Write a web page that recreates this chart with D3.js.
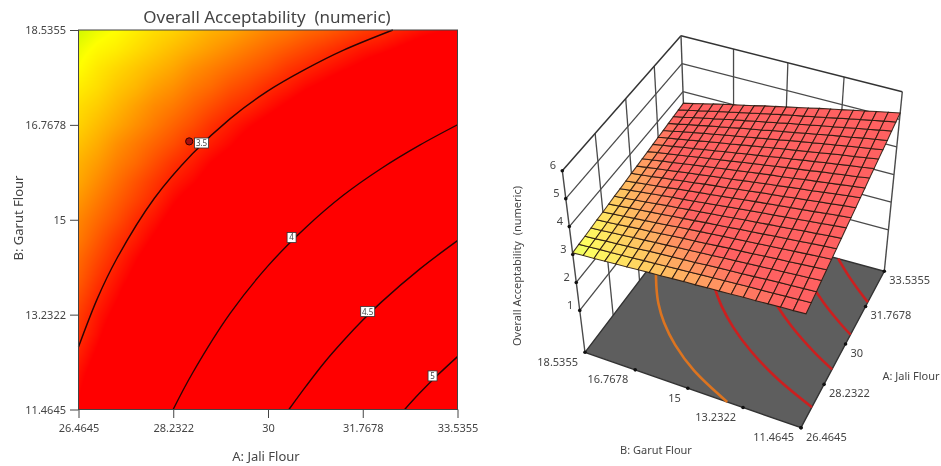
<!DOCTYPE html>
<html><head><meta charset="utf-8">
<script src="https://cdn.jsdelivr.net/npm/d3@7"></script>
<style>
html,body{margin:0;padding:0;background:#fff;}
svg{display:block;filter:blur(0.45px);}
text{font-family:"Noto Sans",sans-serif;fill:#454545;white-space:pre;}
</style></head><body><div id="chart"></div>
<script>
// ---------- data ----------
const chartTitle = "Overall Acceptability  (numeric)";
const xTitle = "A: Jali Flour";
const yTitle = "B: Garut Flour";
const aTicks = [26.4645, 28.2322, 30, 31.7678, 33.5355];
const bTicks = [11.4645, 13.2322, 15, 16.7678, 18.5355];
const zTicks = [1, 2, 3, 4, 5, 6];
const zFloor = -0.5;
// response surface: rows run from B = 18.5355 down to B = 11.4645, columns from A = 26.4645 to 33.5355
const zGrid = [
[3.06,3.09,3.11,3.14,3.17,3.19,3.22,3.25,3.27,3.30,3.33,3.35,3.38,3.40,3.43,3.46,3.48,3.51,3.54,3.56,3.59],
[3.09,3.12,3.14,3.17,3.20,3.23,3.26,3.29,3.32,3.35,3.38,3.41,3.44,3.47,3.50,3.53,3.55,3.58,3.61,3.64,3.67],
[3.11,3.15,3.18,3.21,3.24,3.27,3.31,3.34,3.37,3.40,3.43,3.47,3.50,3.53,3.56,3.59,3.63,3.66,3.69,3.72,3.75],
[3.14,3.17,3.21,3.24,3.28,3.31,3.35,3.38,3.42,3.45,3.49,3.52,3.56,3.59,3.63,3.66,3.70,3.73,3.77,3.80,3.84],
[3.17,3.20,3.24,3.28,3.32,3.35,3.39,3.43,3.47,3.50,3.54,3.58,3.62,3.65,3.69,3.73,3.77,3.81,3.84,3.88,3.92],
[3.19,3.23,3.27,3.31,3.35,3.39,3.43,3.48,3.52,3.56,3.60,3.64,3.68,3.72,3.76,3.80,3.84,3.88,3.92,3.96,4.00],
[3.22,3.26,3.31,3.35,3.39,3.43,3.48,3.52,3.56,3.61,3.65,3.69,3.74,3.78,3.82,3.87,3.91,3.95,4.00,4.04,4.08],
[3.25,3.29,3.34,3.38,3.43,3.48,3.52,3.57,3.61,3.66,3.71,3.75,3.80,3.84,3.89,3.93,3.98,4.03,4.07,4.12,4.16],
[3.27,3.32,3.37,3.42,3.47,3.52,3.56,3.61,3.66,3.71,3.76,3.81,3.86,3.90,3.95,4.00,4.05,4.10,4.15,4.20,4.25],
[3.30,3.35,3.40,3.45,3.50,3.56,3.61,3.66,3.71,3.76,3.81,3.86,3.92,3.97,4.02,4.07,4.12,4.17,4.22,4.28,4.33],
[3.33,3.38,3.43,3.49,3.54,3.60,3.65,3.70,3.76,3.81,3.87,3.92,3.98,4.03,4.08,4.14,4.19,4.25,4.30,4.36,4.41],
[3.35,3.41,3.47,3.52,3.58,3.64,3.69,3.75,3.81,3.87,3.92,3.98,4.04,4.09,4.15,4.21,4.26,4.32,4.38,4.44,4.49],
[3.38,3.44,3.50,3.56,3.62,3.68,3.74,3.80,3.86,3.92,3.98,4.04,4.10,4.16,4.22,4.28,4.34,4.39,4.45,4.51,4.57],
[3.40,3.47,3.53,3.59,3.65,3.72,3.78,3.84,3.91,3.97,4.03,4.09,4.15,4.22,4.28,4.34,4.41,4.47,4.53,4.59,4.66],
[3.43,3.50,3.56,3.63,3.69,3.76,3.82,3.89,3.95,4.02,4.08,4.15,4.21,4.28,4.35,4.41,4.48,4.54,4.61,4.67,4.74],
[3.46,3.53,3.59,3.66,3.73,3.80,3.87,3.93,4.00,4.07,4.14,4.21,4.28,4.34,4.41,4.48,4.55,4.62,4.68,4.75,4.82],
[3.48,3.55,3.63,3.70,3.77,3.84,3.91,3.98,4.05,4.12,4.19,4.26,4.33,4.41,4.48,4.55,4.62,4.69,4.76,4.83,4.90],
[3.51,3.58,3.66,3.73,3.80,3.88,3.95,4.03,4.10,4.17,4.25,4.32,4.39,4.47,4.54,4.62,4.69,4.76,4.84,4.91,4.98],
[3.54,3.61,3.69,3.77,3.84,3.92,4.00,4.07,4.15,4.23,4.30,4.38,4.45,4.53,4.61,4.68,4.76,4.84,4.91,4.99,5.07],
[3.56,3.64,3.72,3.80,3.88,3.96,4.04,4.12,4.20,4.28,4.36,4.44,4.51,4.59,4.67,4.75,4.83,4.91,4.99,5.07,5.15],
[3.59,3.67,3.75,3.84,3.92,4.00,4.08,4.16,4.25,4.33,4.41,4.49,4.57,4.66,4.74,4.82,4.90,4.98,5.07,5.15,5.23]
];
// contour lines of the flat plot, as [A, B] pairs
const contour35 = [[26.4645,12.63],[26.82,13.54],[27.17,14.26],[27.88,15.40],[28.59,16.23],[29.29,16.88],[30,17.40],[30.71,17.81],[31.41,18.16],[32.33,18.5355]];
const contour40 = [[28.23,11.4645],[28.59,12.14],[29.29,13.25],[30,14.14],[30.71,14.86],[31.41,15.46],[32.12,15.96],[32.83,16.39],[33.5355,16.77]];
const contour45 = [[30.39,11.4645],[30.71,11.90],[31.06,12.35],[31.41,12.75],[31.77,13.13],[32.12,13.47],[32.83,14.08],[33.5355,14.61]];
const contour50 = [[32.55,11.4645],[32.83,11.77],[33.18,12.12],[33.5355,12.45]];
const contourLevels = ["3.5", "4", "4.5", "5"];
const contourLabelAt = [[28.76,16.43],[30.44,14.67],[31.86,13.29],[33.07,12.09]];
const designPoint = [28.53, 16.46];
// contour lines on the floor of the 3D plot
const floor342 = [[26.4645,13.73],[27.17,15.15],[27.88,16.14],[28.59,16.89],[29.29,17.46],[30,17.91],[30.71,18.29],[31.27,18.5355]];
const floor378 = [[27.285,11.4645],[27.88,12.77],[28.59,13.94],[29.29,14.84],[30,15.57],[30.71,16.16],[31.41,16.65],[32.12,17.06],[32.83,17.41],[33.5355,17.72]];
const floor415 = [[28.876,11.4645],[29.29,12.16],[30,13.16],[30.71,13.98],[31.41,14.65],[32.12,15.21],[32.83,15.70],[33.5355,16.12]];
const floor451 = [[30.43,11.4645],[30.71,11.85],[31.41,12.70],[32.12,13.42],[32.83,14.04],[33.5355,14.57]];
const floor487 = [[31.98,11.4645],[32.12,11.63],[32.83,12.37],[33.5355,13.02]];
const floorColors = ["#dc7420","#cc1f1f","#cc1f1f","#cc1f1f","#cc1f1f"];

// ---------- shared ----------
const W = 941, H = 466;
const svg = d3.select("#chart").append("svg").attr("width", W).attr("height", H);
const heat = d3.scaleLinear()
  .domain([3.06, 3.11, 3.34, 3.57])
  .range(["#d0f800", "#ffff00", "#ff8000", "#ff0000"]).clamp(true);
const nCols = zGrid[0].length, nRows = zGrid.length;
function zAt(fu, fv) {
  const x = Math.min(fu * (nCols - 1), nCols - 1.0001), y = Math.min(fv * (nRows - 1), nRows - 1.0001);
  const i = Math.floor(x), j = Math.floor(y), s = x - i, t = y - j;
  return (zGrid[j][i] * (1 - s) + zGrid[j][i + 1] * s) * (1 - t) + (zGrid[j + 1][i] * (1 - s) + zGrid[j + 1][i + 1] * s) * t;
}

// ---------- flat contour plot ----------
const x = d3.scaleLinear().domain([aTicks[0], aTicks[4]]).range([78.5, 457.5]);
const y = d3.scaleLinear().domain([bTicks[0], bTicks[4]]).range([409.5, 30]);
const cnv = document.createElement("canvas");
const cw = 379, ch = 380; cnv.width = cw; cnv.height = ch;
const ctx = cnv.getContext("2d");
for (let py = 0; py < ch; py++) for (let px = 0; px < cw; px++) {
  ctx.fillStyle = heat(zAt((px + .5) / cw, (py + .5) / ch));
  ctx.fillRect(px, py, 1, 1);
}
const left = svg.append("g");
left.append("image").attr("x", x.range()[0]).attr("y", y.range()[1]).attr("width", cw).attr("height", ch)
  .attr("preserveAspectRatio", "none").attr("href", cnv.toDataURL());
const line2d = d3.line().x(d => x(d[0])).y(d => y(d[1])).curve(d3.curveCatmullRom);
left.append("g").selectAll("path").data([contour35, contour40, contour45, contour50]).join("path")
  .attr("d", line2d).attr("fill", "none").attr("stroke", "#2a0505").attr("stroke-width", 1.4);
left.append("rect").attr("x", 78.5).attr("y", 30).attr("width", 379).attr("height", 379.5)
  .attr("fill", "none").attr("stroke", "#444").attr("stroke-width", 1);
const fmt = d => String(d);
const axB = left.append("g").attr("transform", "translate(0,409.5)")
  .call(d3.axisBottom(x).tickValues(aTicks).tickFormat(fmt).tickSize(8.5).tickPadding(6));
const axL = left.append("g").attr("transform", "translate(78.5,0)")
  .call(d3.axisLeft(y).tickValues(bTicks).tickFormat(fmt).tickSize(8.5).tickPadding(4));
[axB, axL].forEach(a => {
  a.select(".domain").remove();
  a.selectAll("line").attr("stroke", "#444");
  a.selectAll("text").attr("font-size", 11).style("font-family", '"Noto Sans",sans-serif').style("fill", "#454545");
});
left.append("circle").attr("cx", x(designPoint[0])).attr("cy", y(designPoint[1])).attr("r", 3.6)
  .attr("fill", "#a80f0f").attr("stroke", "#300").attr("stroke-width", 1);
contourLevels.forEach((lab, k) => {
  const [a, b] = contourLabelAt[k];
  const w = lab.length > 1 ? 14 : 9;
  left.append("rect").attr("x", x(a) - w / 2).attr("y", y(b) - 5).attr("width", w).attr("height", 10)
    .attr("fill", "#fff").attr("stroke", "#333").attr("stroke-width", .8);
  left.append("text").attr("x", x(a)).attr("y", y(b) + 3).attr("text-anchor", "middle").attr("font-size", 8).text(lab);
});
left.append("text").attr("x", 267).attr("y", 23).attr("text-anchor", "middle").attr("font-size", 17).text(chartTitle);
left.append("text").attr("x", 266).attr("y", 461).attr("text-anchor", "middle").attr("font-size", 13).text(xTitle);
left.append("text").attr("transform", "translate(23,218) rotate(-90)").attr("text-anchor", "middle").attr("font-size", 13).text(yTitle);

// ---------- 3D plot ----------
const uOf = d3.scaleLinear().domain([aTicks[0], aTicks[4]]).range([0, 1]);
const vOf = d3.scaleLinear().domain([bTicks[4], bTicks[0]]).range([0, 1]);
const wOf = d3.scaleLinear().domain([zFloor, zTicks[5]]).range([0, 1]);
function quad(p) {
  const [[x0,y0],[x1,y1],[x2,y2],[x3,y3]] = p;
  const dx1=x1-x2, dx2=x3-x2, sx=x0-x1+x2-x3, dy1=y1-y2, dy2=y3-y2, sy=y0-y1+y2-y3;
  const den=dx1*dy2-dx2*dy1, g=(sx*dy2-dx2*sy)/den, h=(dx1*sy-sx*dy1)/den;
  const a=x1-x0+g*x1, b=x3-x0+h*x3, d=y1-y0+g*y1, e=y3-y0+h*y3;
  return (u,v) => { const q=g*u+h*v+1; return [(a*u+b*v+x0)/q, (d*u+e*v+y0)/q]; };
}
const floorQuad = quad([[585,352.3],[687.5,217.5],[884.3,271.3],[801,427.7]]);
const topQuad = quad([[562.3,170.7],[681,35.7],[902.3,91.7],[809,246.7]]);
function P(a, b, z) {
  const u=uOf(a), v=vOf(b), w=wOf(z), f=floorQuad(u,v), t=topQuad(u,v);
  return [f[0]+(t[0]-f[0])*w, f[1]+(t[1]-f[1])*w];
}
const g3 = svg.append("g");
const aMin=aTicks[0], aMax=aTicks[4], bMin=bTicks[0], bMax=bTicks[4], zTop=zTicks[5];
function seg(p, q, col, wd) {
  g3.append("line").attr("x1",p[0]).attr("y1",p[1]).attr("x2",q[0]).attr("y2",q[1]).attr("stroke",col).attr("stroke-width",wd);
}
const wallCol = "#4a4a4a";
aTicks.slice(1,4).forEach(a => seg(P(a,bMax,zFloor), P(a,bMax,zTop), wallCol, 1.3));
bTicks.slice(1,4).forEach(b => seg(P(aMax,b,zFloor), P(aMax,b,zTop), wallCol, 1.3));
zTicks.slice(0,5).forEach(z => {
  seg(P(aMin,bMax,z), P(aMax,bMax,z), wallCol, 1.3);
  seg(P(aMax,bMax,z), P(aMax,bMin,z), wallCol, 1.3);
});
seg(P(aMin,bMax,zTop), P(aMax,bMax,zTop), "#333", 1.5);
seg(P(aMax,bMax,zTop), P(aMax,bMin,zTop), "#333", 1.5);
seg(P(aMin,bMax,zFloor), P(aMin,bMax,zTop), "#4a4a4a", 1.4);
seg(P(aMax,bMax,zFloor), P(aMax,bMax,zTop), "#4a4a4a", 1.4);
seg(P(aMax,bMin,zFloor), P(aMax,bMin,zTop), "#4a4a4a", 1.4);
// floor
const ringPts = [P(aMin,bMax,zFloor),P(aMax,bMax,zFloor),P(aMax,bMin,zFloor),P(aMin,bMin,zFloor)];
g3.append("polygon").attr("points", ringPts.map(d=>d.join(",")).join(" "))
  .attr("fill","#5e5e5e").attr("stroke","#333").attr("stroke-width",1.4);
const line3d = d3.line().x(d => P(d[0],d[1],zFloor)[0]).y(d => P(d[0],d[1],zFloor)[1]).curve(d3.curveCatmullRom);
g3.append("g").selectAll("path").data([floor342,floor378,floor415,floor451,floor487]).join("path")
  .attr("d", line3d).attr("fill","none").attr("stroke",(d,i)=>floorColors[i]).attr("stroke-width",2.6);
// axis dots and labels
const dot = p => g3.append("circle").attr("cx",p[0]).attr("cy",p[1]).attr("r",1.8).attr("fill","#111");
zTicks.forEach(z => {
  const p = P(aMin,bMax,z); dot(p);
  g3.append("text").attr("x",p[0]-9.5).attr("y",p[1]-1.5).attr("text-anchor","middle").attr("font-size",11).text(fmt(z));
});
bTicks.slice().reverse().forEach(b => {
  const p = P(aMin,b,zFloor); dot(p);
  g3.append("text").attr("x",p[0]-7).attr("y",p[1]+13.5).attr("text-anchor","end").attr("font-size",11).text(fmt(b));
});
aTicks.forEach(a => {
  const p = P(a,bMin,zFloor); dot(p);
  g3.append("text").attr("x",p[0]+5).attr("y",p[1]+13).attr("text-anchor","start").attr("font-size",11).text(fmt(a));
});
g3.append("text").attr("transform","translate(521,266) rotate(-90)").attr("text-anchor","middle").attr("font-size",11).text(chartTitle);
g3.append("text").attr("x",656).attr("y",454).attr("text-anchor","middle").attr("font-size",11).text(yTitle);
g3.append("text").attr("x",911).attr("y",380).attr("text-anchor","middle").attr("font-size",11).text(xTitle);
// surface
const aAt = d3.scaleLinear().domain([0,nCols-1]).range([aMin,aMax]);
const bAt = d3.scaleLinear().domain([0,nRows-1]).range([bMax,bMin]);
const cells = [];
for (let j=0;j<nRows-1;j++) for (let i=0;i<nCols-1;i++) cells.push({i,j});
const surfCol = z => d3.interpolateRgb(heat(z), "#ffffff")(0.38);
g3.append("g").selectAll("polygon").data(cells).join("polygon")
  .attr("points", ({i,j}) => [[i,j],[i+1,j],[i+1,j+1],[i,j+1]]
      .map(([c,r]) => P(aAt(c),bAt(r),zGrid[r][c]).join(",")).join(" "))
  .attr("fill", ({i,j}) => surfCol((zGrid[j][i]+zGrid[j][i+1]+zGrid[j+1][i]+zGrid[j+1][i+1])/4))
  .attr("stroke","#2a1a10").attr("stroke-opacity",.9).attr("stroke-width",1.05);
</script></body></html>
